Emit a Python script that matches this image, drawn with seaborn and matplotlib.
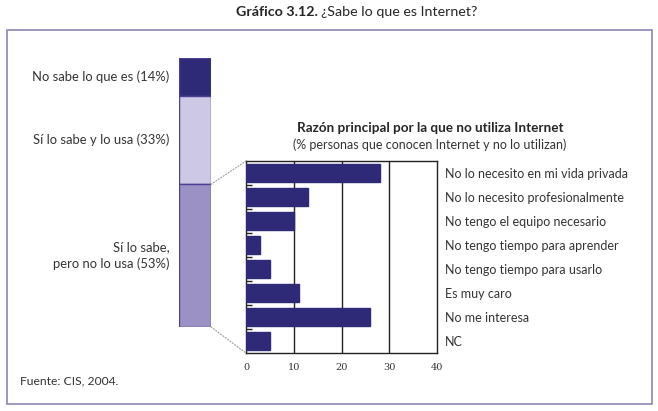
import pandas as pd
import matplotlib.pyplot as plt
import seaborn as sns
from matplotlib.patches import Rectangle, ConnectionPatch

# Stacked bar: ¿Sabe lo que es Internet?
groups = ['No sabe lo que es (14%)', 'Sí lo sabe y lo usa (33%)', 'Sí lo sabe,\npero no lo usa (53%)']
group_pct = [14, 33, 53]
group_colors = ['#2e2a78', '#cdc8e4', '#9b91c5']

# Reasons for not using Internet
reasons = ['No lo necesito en mi vida privada', 'No lo necesito profesionalmente',
           'No tengo el equipo necesario', 'No tengo tiempo para aprender',
           'No tengo tiempo para usarlo', 'Es muy caro', 'No me interesa', 'NC']
reason_pct = [28, 13, 10, 3, 5, 11, 26, 5]
x_ticks = [0, 10, 20, 30, 40]

sns.set_theme(style='white')
plt.rcParams['font.family'] = ['Lato', 'DejaVu Sans']

W, H = 658, 411
fig = plt.figure(figsize=(W / 100, H / 100), dpi=100)


def px_axes(x0, y0, x1, y1):
    return fig.add_axes([x0 / W, 1 - y1 / H, (x1 - x0) / W, (y1 - y0) / H])


# outer frame
fig.patches.append(Rectangle((7 / W, 1 - 404 / H), 645 / W, 374 / H, transform=fig.transFigure,
                             fill=False, edgecolor='#8a86b8', linewidth=1.2))

# title
fig.text(318 / W, 1 - 12 / H, 'Gráfico 3.12.', ha='right', va='center', fontsize=10.3, fontweight='bold')
fig.text(321 / W, 1 - 12 / H, '¿Sabe lo que es Internet?', ha='left', va='center', fontsize=10.3)

# stacked bar
ax1 = px_axes(179, 58, 211, 327)
bottom = 0
for name, val, col in zip(groups, group_pct, group_colors):
    ax1.bar(0, val, bottom=bottom, width=1, color=col, edgecolor='#4a3f92', linewidth=1)
    ax1.text(-0.5 - 0.3, bottom + val / 2, name, ha='right', va='center', fontsize=9.4,
             color='#333333', linespacing=1.35)
    bottom += val
ax1.set_xlim(-0.5, 0.5)
ax1.set_ylim(100, 0)
ax1.axis('off')

# reasons bar chart
df = pd.DataFrame({'reason': reasons, 'pct': reason_pct})
ax2 = px_axes(246, 161, 437, 353)
sns.barplot(data=df, x='pct', y='reason', orient='h', color='#2e2a78', width=0.75,
            saturation=1, edgecolor='#2e2a78', ax=ax2, zorder=3)
ax2.set_xlim(0, 40)
ax2.set_ylim(len(reasons) - 0.5, -0.5)
ax2.set_xticks(x_ticks)
ax2.set_xticklabels([str(t) for t in x_ticks], fontsize=7, family='DejaVu Serif', color='#333333')
ax2.tick_params(axis='x', length=0, pad=7)
for t in x_ticks[1:-1]:
    ax2.axvline(t, color='#222222', linewidth=1, zorder=1)
ax2.yaxis.tick_right()
ax2.tick_params(axis='y', which='major', length=0, pad=6, labelsize=9, labelcolor='#333333')
ax2.set_yticks([i + 0.5 for i in range(len(reasons) - 1)], minor=True)
ax2.tick_params(axis='y', which='minor', left=True, right=False, direction='in', length=4,
                width=1, color='#222222')
ax2.set_xlabel('')
ax2.set_ylabel('')
for s in ax2.spines.values():
    s.set_color('#222222')
    s.set_linewidth(1)

ax2.text(38.5, -1.875, 'Razón principal por la que no utiliza Internet', ha='center',
         va='center', fontsize=9.7, fontweight='bold')
ax2.text(38.5, -1.17, '(% personas que conocen Internet y no lo utilizan)', ha='center',
         va='center', fontsize=9, color='#333333')

# connector lines
for ya, yb in [(47, 0), (100, 1)]:
    con = ConnectionPatch(xyA=(0.5, ya), coordsA=ax1.transData,
                          xyB=(0, 1 - yb), coordsB=ax2.transAxes,
                          color='#999999', linewidth=0.8, linestyle=':')
    fig.add_artist(con)

fig.text(20 / W, 1 - 381 / H, 'Fuente: CIS, 2004.', ha='left', va='center', fontsize=8.7, color='#333333')

fig.savefig('out.png', dpi=100)
